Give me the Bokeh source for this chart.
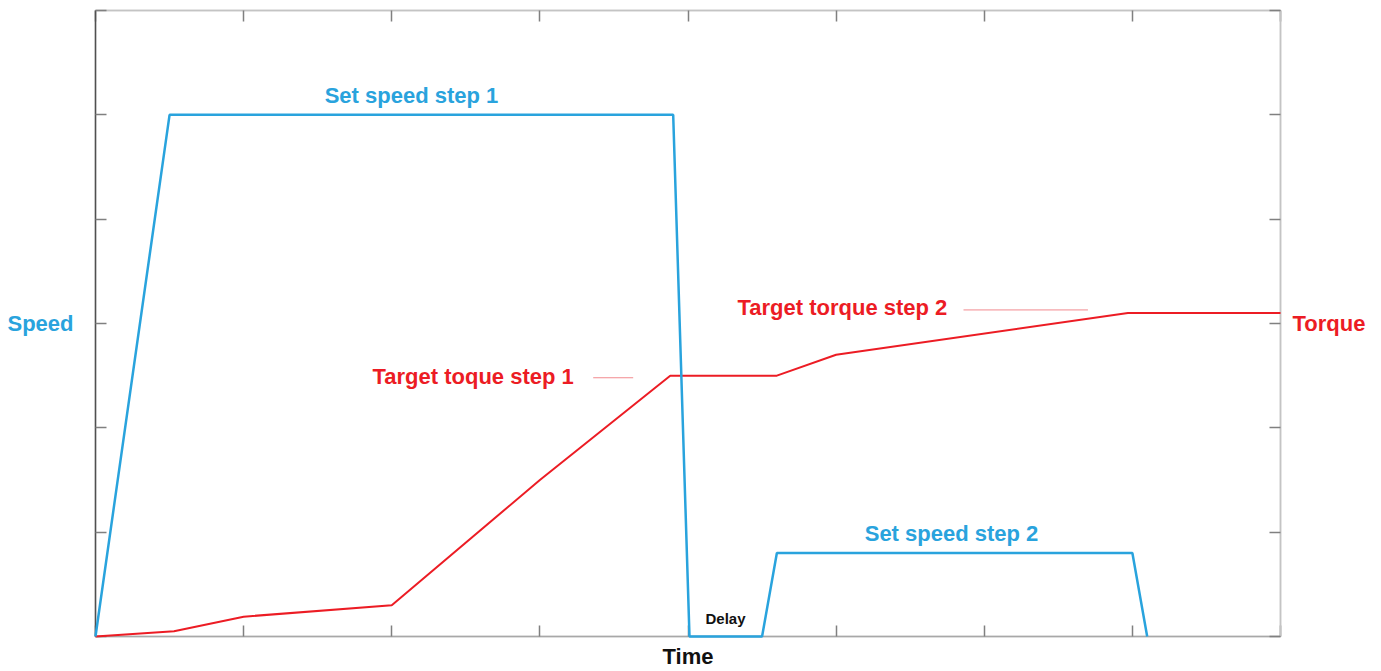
from bokeh.plotting import figure
from bokeh.models import LinearAxis, FixedTicker, Label
from bokeh.embed import file_html
from bokeh.resources import INLINE

# ---- data ----
speed_t = [0.0, 0.5, 3.9, 4.01, 4.5, 4.6, 7.0, 7.1]
speed_v = [0.0, 5.0, 5.0, 0.0, 0.0, 0.8, 0.8, 0.0]

torque_t = [0.0, 0.53, 1.0, 2.0, 3.0, 3.88, 4.6, 5.0, 6.97, 8.0]
torque_v = [0.0, 0.05, 0.19, 0.3, 1.5, 2.5, 2.5, 2.7, 3.1, 3.1]

x_ticks = [0, 1, 2, 3, 4, 5, 6, 7, 8]
y_ticks = [0, 1, 2, 3, 4, 5, 6]

# leader lines next to the torque labels
leader_x0 = [3.36, 5.86]
leader_x1 = [3.63, 6.70]
leader_y = [2.48, 3.13]

BLUE = "#29A3DD"
RED = "#EC1C24"
FONT = "Liberation Sans"

p = figure(width=1381, height=671, x_range=(0, 8), y_range=(0, 6),
           output_backend="svg", toolbar_location=None,
           x_axis_location=None, y_axis_location=None,
           min_border_left=95, min_border_right=101,
           min_border_top=10, min_border_bottom=35)
p.xgrid.visible = False
p.ygrid.visible = False
p.outline_line_color = "#c4c4c4"
p.outline_line_width = 1.5
p.background_fill_color = "white"
p.border_fill_color = "white"

def make_axis(ticks, line_color, label=None, label_color="#111111", standoff=10):
    ax = LinearAxis(ticker=FixedTicker(ticks=ticks))
    ax.major_tick_in = 11
    ax.major_tick_out = 0
    ax.minor_tick_in = 0
    ax.minor_tick_out = 0
    ax.major_tick_line_color = "#808080"
    ax.major_tick_line_width = 1.5
    ax.major_label_overrides = {t: "" for t in ticks}
    ax.major_label_standoff = 0
    ax.axis_line_color = line_color
    ax.axis_line_width = 1.5
    if label is not None:
        ax.axis_label = label
        ax.axis_label_orientation = "horizontal"
        ax.axis_label_text_font = FONT
        ax.axis_label_text_font_style = "bold"
        ax.axis_label_text_font_size = "22px"
        ax.axis_label_text_color = label_color
        ax.axis_label_standoff = standoff
    return ax

p.add_layout(make_axis(y_ticks, "#505050", "Speed", BLUE, 22), "left")
p.add_layout(make_axis(y_ticks, "#c4c4c4", "Torque", RED, 12), "right")
p.add_layout(make_axis(x_ticks, "#c4c4c4"), "above")
p.add_layout(make_axis(x_ticks, "#a8a8a8", "Time", "#111111", 7), "below")

r_t = p.line(torque_t, torque_v, line_color=RED, line_width=2)
r_s = p.line(speed_t, speed_v, line_color=BLUE, line_width=2.5)
r_t.level = "overlay"
r_s.level = "overlay"
p.segment(x0=leader_x0, y0=leader_y, x1=leader_x1, y1=leader_y,
          line_color="#f28a8e", line_width=1)

def lab(x, y, text, color, size="22px", align="left", baseline="middle"):
    p.add_layout(Label(x=x, y=y, text=text, text_color=color,
                       text_font=FONT, text_font_style="bold",
                       text_font_size=size, text_align=align,
                       text_baseline=baseline))

lab(2.133, 5.185, "Set speed step 1", BLUE, align="center")
lab(1.87, 2.49, "Target toque step 1", RED)
lab(4.334, 3.15, "Target torque step 2", RED)
lab(5.779, 0.99, "Set speed step 2", BLUE, align="center")
lab(4.253, 0.17, "Delay", "#111111", size="15px", align="center")

open("out.html", "w").write(file_html(p, INLINE))
